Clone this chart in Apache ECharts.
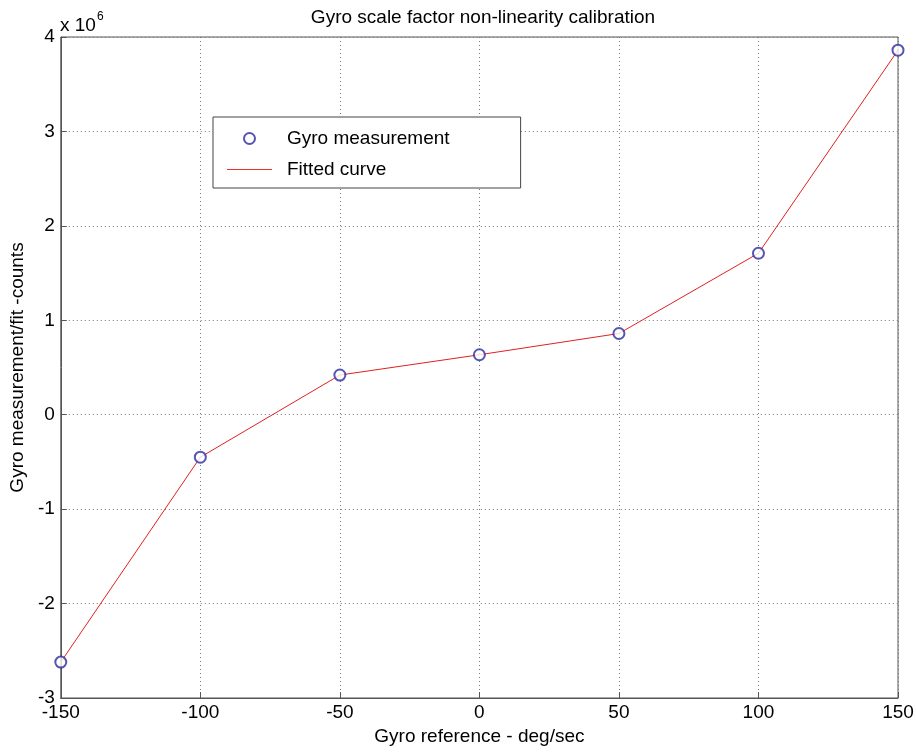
<!DOCTYPE html>
<html>
<head>
<meta charset="utf-8">
<script src="https://cdn.jsdelivr.net/npm/echarts@6/dist/echarts.min.js"></script>
<style>
  html, body { margin: 0; padding: 0; background: #fff; }
  #main { width: 917px; height: 752px; }
</style>
</head>
<body>
<div id="main"></div>
<script type="text/javascript">
// 读图得到的数据 (counts)
var refRate = [-150, -100, -50, 0, 50, 100, 150];
var measured = [-2620000, -450000, 420000, 635000, 860000, 1710000, 3860000];
var fitted = [-2620000, -450000, 420000, 635000, 860000, 1710000, 3860000];

var font = 'Liberation Sans, Arial, sans-serif';

var myChart = echarts.init(document.getElementById('main'));

var option = {
    backgroundColor: '#fff',
    animation: false,
    title: {
        text: 'Gyro scale factor non-linearity calibration',
        left: 478, top: 3, textAlign: 'center',
        textStyle: { fontFamily: font, fontSize: 19, fontWeight: 'normal', color: '#000' }
    },
    grid: {
        left: 60, right: 19, top: 37, bottom: 54,
        show: true, borderColor: '#555', borderWidth: 1
    },
    legend: {
        orient: 'vertical',
        left: 213, top: 117,
        padding: [12, 71, 9, 14],
        itemWidth: 45, itemHeight: 11, itemGap: 12,
        borderColor: '#444', borderWidth: 1,
        backgroundColor: '#fff',
        textStyle: { fontFamily: font, fontSize: 19, color: '#000', padding: [0, 0, 0, 10] },
        data: [
            { name: 'Gyro measurement', icon: 'emptyCircle', itemStyle: { color: '#2a2aa0', borderColor: '#2a2aa0', borderWidth: 1 } },
            { name: 'Fitted curve', icon: 'path://M0 0 H45 V1 H0 Z', itemStyle: { color: '#f03030' } }
        ]
    },
    xAxis: {
        type: 'value', min: -150, max: 150, interval: 50,
        name: 'Gyro reference - deg/sec', nameLocation: 'middle', nameGap: 24,
        nameTextStyle: { fontFamily: font, fontSize: 19, color: '#000' },
        axisLine: { onZero: false, lineStyle: { color: '#555' } },
        axisTick: { inside: true, length: 6, lineStyle: { color: '#555' } },
        axisLabel: { fontFamily: font, fontSize: 19, color: '#000', margin: 5 },
        splitLine: { show: true, lineStyle: { color: '#777', type: [1, 3] } }
    },
    yAxis: {
        type: 'value', min: -3000000, max: 4000000, interval: 1000000,
        name: 'Gyro measurement/fit -counts', nameLocation: 'middle', nameGap: 32,
        nameTextStyle: { fontFamily: font, fontSize: 19, color: '#000' },
        axisLine: { show: true, onZero: false, lineStyle: { color: '#555' } },
        axisTick: { show: true, inside: true, length: 6, lineStyle: { color: '#555' } },
        axisLabel: {
            fontFamily: font, fontSize: 19, color: '#000', margin: 6,
            formatter: function (v) { return String(Math.round(v / 1e6)); }
        },
        splitLine: { show: true, lineStyle: { color: '#777', type: [1, 3] } }
    },
    graphic: [{
        type: 'text', left: 60, top: 11,
        style: {
            text: '{b|x 10}{s|6}',
            rich: {
                b: { fontFamily: font, fontSize: 19, fill: '#000', verticalAlign: 'bottom' },
                s: { fontFamily: font, fontSize: 12, fill: '#000', padding: [0, 0, 12, 1] }
            }
        }
    }],
    series: [{
        name: 'Fitted curve',
        type: 'line',
        data: refRate.map(function (x, i) { return [x, fitted[i]]; }),
        showSymbol: false,
        lineStyle: { color: '#e02020', width: 1 },
        itemStyle: { color: '#e02020' },
        z: 2
    }, {
        name: 'Gyro measurement',
        type: 'scatter',
        data: refRate.map(function (x, i) { return [x, measured[i]]; }),
        symbol: 'emptyCircle', symbolSize: 11,
        itemStyle: { color: '#2a2aa0', borderColor: '#2a2aa0', borderWidth: 1 },
        z: 3
    }]
};

myChart.setOption(option);
</script>
</body>
</html>
